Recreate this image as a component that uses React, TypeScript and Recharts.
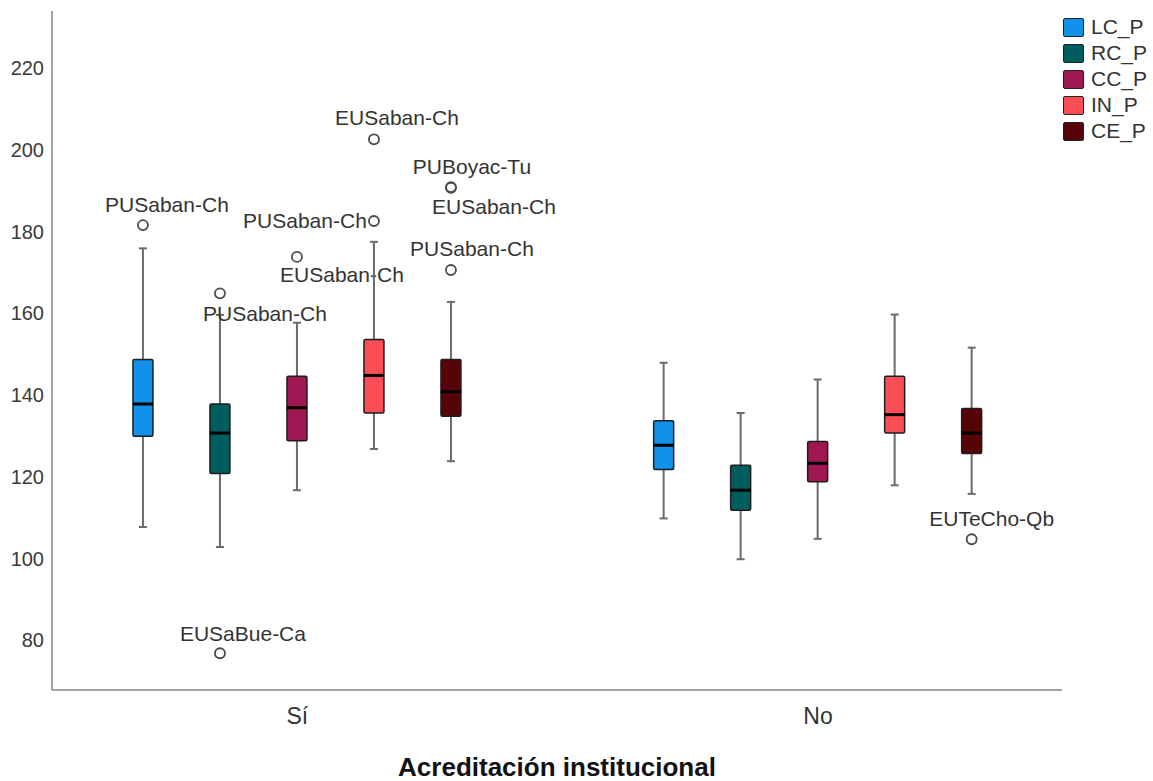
import React from 'react'
import { BarChart, Bar, XAxis, YAxis } from 'recharts'

const groups = ['Sí', 'No']
const groupPos = [0, 1]
const seriesNames = ['LC_P', 'RC_P', 'CC_P', 'IN_P', 'CE_P']
const seriesColors = ['#1192e8', '#005d5d', '#9f1853', '#fa4d56', '#570408']
const yTicks = [80, 100, 120, 140, 160, 180, 200, 220]

// [lower whisker, Q1, median, Q3, upper whisker], one row per group (Sí, No)
const lcP = [[107.7, 129.9, 137.8, 148.7, 175.9], [109.8, 121.8, 127.7, 133.7, 147.9]]
const rcP = [[102.8, 120.8, 130.7, 137.8, 159.6], [99.8, 111.8, 116.7, 122.8, 135.6]]
const ccP = [[116.7, 128.8, 136.9, 144.6, 157.7], [104.8, 118.8, 123.3, 128.6, 143.8]]
const inP = [[126.8, 135.6, 144.8, 153.6, 177.5], [117.9, 130.7, 135.2, 144.6, 159.7]]
const ceP = [[123.8, 134.8, 140.8, 148.7, 162.8], [115.8, 125.7, 130.7, 136.7, 151.6]]

const outliers = [
    { series: 'LC_P', group: 'Sí', value: 181.6, label: 'PUSaban-Ch' },
    { series: 'RC_P', group: 'Sí', value: 164.9, label: 'PUSaban-Ch' },
    { series: 'RC_P', group: 'Sí', value: 76.8, label: 'EUSaBue-Ca' },
    { series: 'CC_P', group: 'Sí', value: 173.8, label: 'EUSaban-Ch' },
    { series: 'IN_P', group: 'Sí', value: 202.6, label: 'EUSaban-Ch' },
    { series: 'IN_P', group: 'Sí', value: 182.6, label: 'PUSaban-Ch' },
    { series: 'CE_P', group: 'Sí', value: 190.9, label: 'PUBoyac-Tu' },
    { series: 'CE_P', group: 'Sí', value: 190.7, label: 'EUSaban-Ch' },
    { series: 'CE_P', group: 'Sí', value: 170.6, label: 'PUSaban-Ch' },
    { series: 'CE_P', group: 'No', value: 104.7, label: 'EUTeCho-Qb' },
]

// where each outlier label sits relative to its point (px)
const labelOffsets = [
    [24, -21], [45, 20], [23, -20], [45, 18], [23, -22],
    [-69, 0], [21, -21], [43, 19], [21, -22], [20, -21],
]

const statsBySeries: Record<string, number[][]> = {
    LC_P: lcP, RC_P: rcP, CC_P: ccP, IN_P: inP, CE_P: ceP,
}

const data = groups.map((g, i) => {
    const row: any = { group: g, pos: groupPos[i] }
    seriesNames.forEach(s => {
        const st = statsBySeries[s][i]
        row[s] = [st[0], st[4]]
    })
    return row
})

const FONT = '"Liberation Sans", Arial, sans-serif'

const BoxShape = (props: any) => {
    const { x, y, width, height, payload, series, color } = props
    const gi = groups.indexOf(payload.group)
    const st = statsBySeries[series][gi]
    const lo = st[0]
    const hi = st[4]
    const top = Math.min(y, y + height)
    const bottom = Math.max(y, y + height)
    const toPx = (v: number) => bottom - ((v - lo) / (hi - lo)) * (bottom - top)
    const cx = x + width / 2
    const cap = 4
    const whisker = '#6b6b6b'
    const points = outliers
        .map((o, i) => ({ ...o, i }))
        .filter(o => o.series === series && o.group === payload.group)

    return (
        <g>
            <line x1={cx} x2={cx} y1={toPx(hi)} y2={toPx(st[3])} stroke={whisker} strokeWidth={2} />
            <line x1={cx} x2={cx} y1={toPx(st[1])} y2={toPx(lo)} stroke={whisker} strokeWidth={2} />
            <line x1={cx - cap} x2={cx + cap} y1={toPx(hi)} y2={toPx(hi)} stroke={whisker} strokeWidth={2} />
            <line x1={cx - cap} x2={cx + cap} y1={toPx(lo)} y2={toPx(lo)} stroke={whisker} strokeWidth={2} />
            <rect
                x={x}
                y={toPx(st[3])}
                width={width}
                height={toPx(st[1]) - toPx(st[3])}
                rx={1.5}
                fill={color}
                stroke="#1e1e1e"
                strokeWidth={1.5}
            />
            <line x1={x} x2={x + width} y1={toPx(st[2])} y2={toPx(st[2])} stroke="#000" strokeWidth={3} />
            {points.map(o => {
                const py = toPx(o.value)
                const [dx, dy] = labelOffsets[o.i]
                return (
                    <g key={o.i}>
                        <circle cx={cx} cy={py} r={5} fill="none" stroke="#4a4a4a" strokeWidth={1.8} />
                        <text
                            x={cx + dx}
                            y={py + dy}
                            textAnchor="middle"
                            dominantBaseline="central"
                            fontSize={21}
                            fontFamily={FONT}
                            fill="#333"
                        >
                            {o.label}
                        </text>
                    </g>
                )
            })}
        </g>
    )
}

const App = () => {
    return (
        <div style={{ position: 'fixed', left: 0, top: 0, width: 1153, height: 781, background: '#fff' }}>
            <BarChart
                width={1153}
                height={781}
                data={data}
                margin={{ top: 11, right: 91, bottom: 0, left: 0 }}
                barGap={57}
            >
                <XAxis
                    type="number"
                    dataKey="pos"
                    domain={[-0.4711, 1.4686]}
                    ticks={groupPos}
                    tickFormatter={(v: number) => groups[groupPos.indexOf(v)] ?? ''}
                    height={91}
                    tickLine={false}
                    tickMargin={12}
                    axisLine={{ stroke: '#858585', strokeWidth: 1.5 }}
                    tick={{ fontSize: 23, fill: '#333', fontFamily: FONT }}
                    label={{
                        value: 'Acreditación institucional',
                        position: 'insideBottom',
                        offset: 5,
                        style: { fontSize: 26, fontWeight: 'bold', fill: '#111', fontFamily: FONT },
                    }}
                />
                <YAxis
                    type="number"
                    domain={[67.8, 234]}
                    ticks={yTicks}
                    width={52}
                    tickLine={false}
                    axisLine={{ stroke: '#858585', strokeWidth: 1.5 }}
                    tick={{ fontSize: 20, fill: '#3a3a3a', fontFamily: FONT }}
                />
                {seriesNames.map((s, i) => (
                    <Bar
                        key={s}
                        dataKey={s}
                        barSize={20}
                        fill={seriesColors[i]}
                        isAnimationActive={false}
                        shape={(p: any) => <BoxShape {...p} series={s} color={seriesColors[i]} />}
                    />
                ))}
            </BarChart>
            <div style={{ position: 'absolute', left: 1063, top: 14, fontFamily: FONT }}>
                {seriesNames.map((s, i) => (
                    <div key={s} style={{ display: 'flex', alignItems: 'center', height: 26 }}>
                        <div
                            style={{
                                width: 21,
                                height: 19,
                                boxSizing: 'border-box',
                                background: seriesColors[i],
                                border: '1.5px solid #222',
                                borderRadius: 2,
                                marginRight: 7,
                            }}
                        />
                        <span style={{ fontSize: 21, color: '#333', lineHeight: '26px' }}>{s}</span>
                    </div>
                ))}
            </div>
        </div>
    )
}

export default App
